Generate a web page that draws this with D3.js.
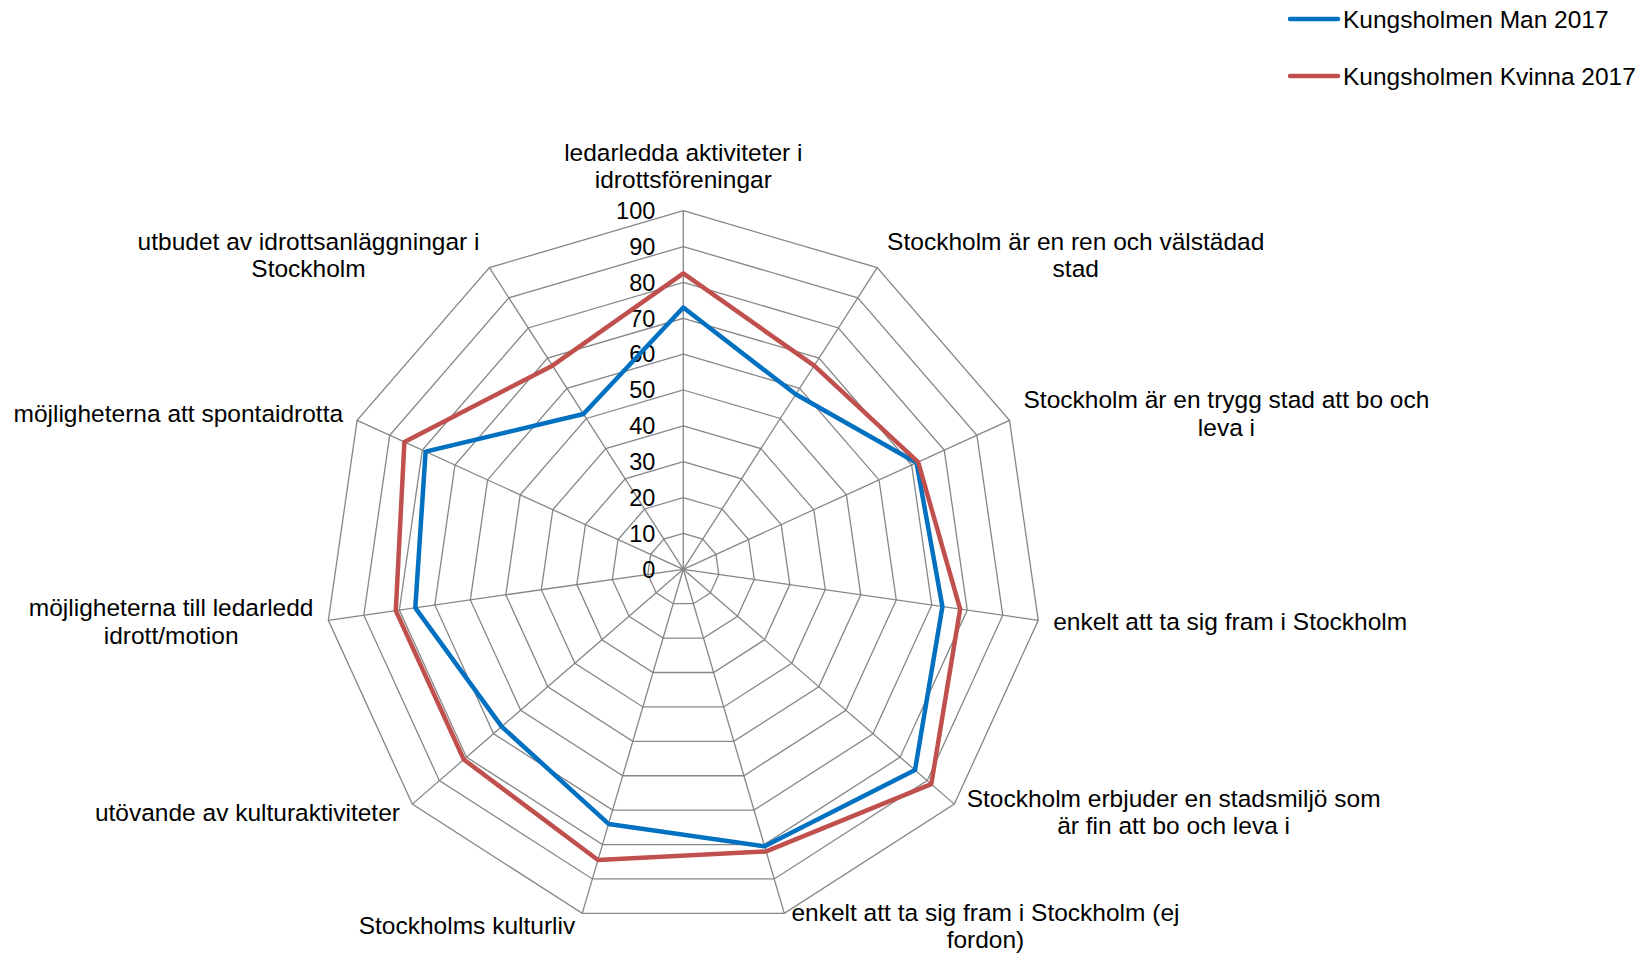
<!DOCTYPE html>
<html>
<head>
<meta charset="utf-8">
<script src="https://cdnjs.cloudflare.com/ajax/libs/d3/7.8.5/d3.min.js"></script>
<style>
  body { margin: 0; background: #fff; }
  svg text { font-family: "Liberation Sans", Arial, sans-serif; fill: #000; }
</style>
</head>
<body>
<div id="chart-container"></div>
<script>
// axis labels, clockwise from the top (line breaks as in the original)
const categories = [
  "ledarledda aktiviteter i\nidrottsföreningar",
  "Stockholm är en ren och välstädad\nstad",
  "Stockholm är en trygg stad att bo och\nleva i",
  "enkelt att ta sig fram i Stockholm",
  "Stockholm erbjuder en stadsmiljö som\när fin att bo och leva i",
  "enkelt att ta sig fram i Stockholm (ej\nfordon)",
  "Stockholms kulturliv",
  "utövande av kulturaktiviteter",
  "möjligheterna till ledarledd\nidrott/motion",
  "möjligheterna att spontaidrotta",
  "utbudet av idrottsanläggningar i\nStockholm"
];
const manValues = [73, 58, 71.5, 73, 85.5, 80.5, 74, 67, 75.5, 79, 51.5];
const kvinnaValues = [82.5, 67.5, 72, 78, 91.5, 82, 84.5, 81, 81, 85.5, 67.5];
const seriesNames = ["Kungsholmen Man 2017", "Kungsholmen Kvinna 2017"];
const tickValues = [0, 10, 20, 30, 40, 50, 60, 70, 80, 90, 100];

document.addEventListener('DOMContentLoaded', function(){
  drawRadar();
});

function drawRadar(){
  const width = 1650, height = 954;
  const cx = 683.3, cy = 569.3, radius = 358.6;
  const gridColor = "#868686";
  const colors = ["#0070C0", "#C0504D"];

  const svg = d3.select("#chart-container").append("svg")
    .attr("width", width)
    .attr("height", height);

  const n = categories.length;
  const angle = d3.scaleLinear().domain([0, n]).range([0, 2 * Math.PI]);
  const r = d3.scaleLinear().domain([0, 100]).range([0, radius]);

  const chart = svg.append("g").attr("transform", `translate(${cx},${cy})`);

  //grid rings
  const ring = d3.lineRadial()
    .angle((d, i) => angle(i))
    .radius(d => r(d))
    .curve(d3.curveLinearClosed);

  chart.selectAll(".ring")
    .data(tickValues.filter(t => t > 0))
    .enter().append("path")
    .attr("class", "ring")
    .attr("d", t => ring(categories.map(() => t)))
    .attr("fill", "none")
    .attr("stroke", gridColor)
    .attr("stroke-width", 1.3);

  //spokes
  chart.selectAll(".spoke")
    .data(categories)
    .enter().append("line")
    .attr("class", "spoke")
    .attr("x1", 0).attr("y1", 0)
    .attr("x2", (d, i) => r(100) * Math.sin(angle(i)))
    .attr("y2", (d, i) => -r(100) * Math.cos(angle(i)))
    .attr("stroke", gridColor)
    .attr("stroke-width", 1.3);

  //tick labels along the top axis
  chart.selectAll(".tick-label")
    .data(tickValues)
    .enter().append("text")
    .attr("class", "tick-label")
    .attr("x", -28)
    .attr("y", d => -r(d))
    .attr("dy", "0.35em")
    .attr("text-anchor", "end")
    .style("font-size", "23.5px")
    .text(d => d);

  //series lines
  const series = [manValues, kvinnaValues];
  chart.selectAll(".series")
    .data(series)
    .enter().append("path")
    .attr("class", "series")
    .attr("d", d => ring(d))
    .attr("fill", "none")
    .attr("stroke", (d, i) => colors[i])
    .attr("stroke-width", 4.5)
    .attr("stroke-linejoin", "round");

  //category labels
  const lineHeight = 27.4;
  const labels = chart.selectAll(".cat-label")
    .data(categories)
    .enter().append("text")
    .attr("class", "cat-label")
    .attr("text-anchor", "middle")
    .attr("dominant-baseline", "central")
    .style("font-size", "24.5px");

  labels.each(function(d, i){
    const t = d3.select(this);
    const lines = d.split("\n");
    lines.forEach(function(line, j){
      t.append("tspan").attr("x", 0).attr("dy", j === 0 ? 0 : lineHeight).text(line);
    });
    let w = 0;
    t.selectAll("tspan").each(function(){ w = Math.max(w, this.getComputedTextLength()); });
    const h = lines.length * lineHeight;
    const a = angle(i);
    const s = Math.sin(a), c = Math.cos(a);
    const vx = r(100) * s, vy = -r(100) * c;
    let bx, by;
    if (Math.abs(s) < 0.05) {
      bx = vx;
      by = vy - (18 + h / 2);
    } else {
      const gap = 4 + 11 * Math.abs(s);
      bx = vx + (s > 0 ? 1 : -1) * (gap + w / 2);
      by = vy - c * 14 - 1.5;
    }
    t.attr("transform", `translate(${bx},${by - h / 2 + lineHeight / 2})`);
  });

  //legend
  const legendItem = svg.append("g")
    .attr("class", "legend")
    .selectAll("g")
    .data(seriesNames)
    .enter().append("g")
    .attr("transform", (d, i) => `translate(1290, ${19 + i * 57})`);

  legendItem.append("line")
    .attr("x1", 0).attr("x2", 48)
    .attr("y1", 0).attr("y2", 0)
    .attr("stroke", (d, i) => colors[i])
    .attr("stroke-width", 4.5)
    .attr("stroke-linecap", "round");

  legendItem.append("text")
    .attr("x", 53)
    .attr("y", 0)
    .attr("dy", "0.35em")
    .style("font-size", "24.5px")
    .text(d => d);
}
</script>
</body>
</html>
